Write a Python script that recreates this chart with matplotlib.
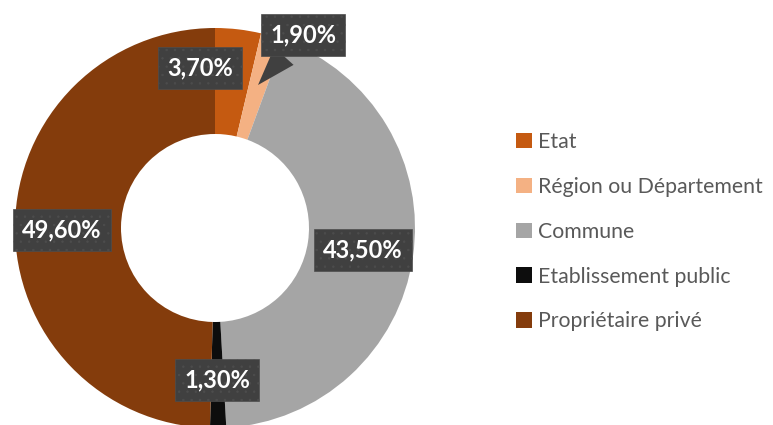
import matplotlib
matplotlib.use("Agg")
import matplotlib.pyplot as plt

categories = ["Etat", "Région ou Département", "Commune", "Etablissement public", "Propriétaire privé"]
values = [3.70, 1.90, 43.50, 1.30, 49.60]
labels = ["3,70%", "1,90%", "43,50%", "1,30%", "49,60%"]
colors = ["#C55A11", "#F4B183", "#A5A5A5", "#0D0D0D", "#843C0C"]

plt.rcParams['hatch.linewidth'] = 0.5

W, H = 773, 425
fig = plt.figure(figsize=(W / 100, H / 100), dpi=100)
fig.patch.set_facecolor("white")

cx, cy, R = 215, 228, 200
ax = fig.add_axes([(cx - R) / W, (H - cy - R) / H, 2 * R / W, 2 * R / H])

wedges, _ = ax.pie(values, colors=colors, startangle=90, counterclock=False,
                   radius=1.0, wedgeprops=dict(width=0.53, linewidth=0))
ax.set_xlim(-1, 1)
ax.set_ylim(-1, 1)
ax.set_aspect("equal")
ax.axis("off")

label_pos = [(-0.075, 0.80), (0.44, 0.965), (0.74, -0.11), (0.01, -0.76), (-0.765, -0.01)]
box = dict(boxstyle="square,pad=0.4", facecolor="#404040", edgecolor="#4d4d4d",
           linewidth=0.5, hatch="..")
tfont = dict(color="white", fontsize=17, fontweight="bold", family=["Lato", "DejaVu Sans"],
             ha="center", va="center")

for i, (lab, pos) in enumerate(zip(labels, label_pos)):
    if i == 1:
        ax.annotate(lab, xy=(0.215, 0.715), xytext=pos, bbox=box,
                    arrowprops=dict(arrowstyle="wedge,tail_width=1.1,shrink_factor=0.5",
                                    facecolor="#404040", edgecolor="none", shrinkA=0, shrinkB=0),
                    annotation_clip=False, **tfont)
    else:
        ax.text(pos[0], pos[1], lab, bbox=box, **tfont)

leg = fig.legend(wedges, categories, loc="upper left", bbox_to_anchor=(516 / W, 1 - 132 / H),
                 frameon=False, prop=dict(family=["Lato", "DejaVu Sans"], size=15.3),
                 handlelength=0.75, handleheight=0.75, handletextpad=0.3, labelspacing=1.17,
                 borderaxespad=0, borderpad=0)
for t in leg.get_texts():
    t.set_color("#595959")

fig.savefig("out.png", dpi=100)
